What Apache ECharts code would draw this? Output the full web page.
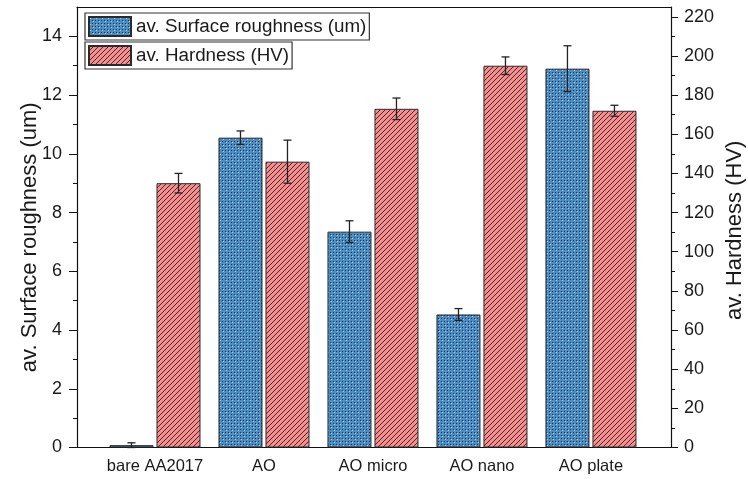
<!DOCTYPE html>
<html>
<head>
<meta charset="utf-8">
<script src="https://cdn.jsdelivr.net/npm/echarts@6/dist/echarts.min.js"></script>
<style>html,body{margin:0;padding:0;background:#fff}#c{width:748px;height:479px}</style>
</head>
<body>
<div id="c"></div>
<script>
const categories = ['bare AA2017', 'AO', 'AO micro', 'AO nano', 'AO plate'];
const roughness = [0.08, 10.55, 7.35, 4.53, 12.9];
const roughnessErr = [0.08, 0.23, 0.37, 0.2, 0.78];
const hardness = [135, 146, 173, 195, 172];
const hardnessErr = [5, 11, 5.5, 4.5, 2.8];
const leftMajorTicks = [0, 2, 4, 6, 8, 10, 12, 14];
const leftMinorTicks = [1, 3, 5, 7, 9, 11, 13];
const rightMajorTicks = [0, 20, 40, 60, 80, 100, 120, 140, 160, 180, 200, 220];
const rightMinorTicks = [10, 30, 50, 70, 90, 110, 130, 150, 170, 190, 210];
const names = ['av. Surface roughness (um)', 'av. Hardness (HV)'];

function bluePattern() {
  const c = document.createElement('canvas'); c.width = 6; c.height = 6;
  const g = c.getContext('2d');
  g.fillStyle = '#4f8cc0'; g.fillRect(0, 0, 6, 6);
  g.fillStyle = '#1c3550';
  g.fillRect(0, 0, 1, 1); g.fillRect(3, 3, 1, 1); g.fillRect(3, 0, 1, 1); g.fillRect(0, 3, 1, 1);
  g.fillStyle = '#8fd3ff';
  g.fillRect(1, 1, 1, 1); g.fillRect(4, 4, 1, 1);
  return c;
}
function redPattern() {
  const c = document.createElement('canvas'); c.width = 5; c.height = 5;
  const g = c.getContext('2d');
  g.fillStyle = '#f58f8f'; g.fillRect(0, 0, 5, 5);
  g.fillStyle = '#4a2626';
  for (let x = 0; x < 5; x++) { const y = (4 - x + 5) % 5; g.fillRect(x, y, 1, 1); }
  return c;
}

const BW = 44, GAP = 3;
const off = (BW + GAP) / 2;

function errSeries(vals, errs, yIdx, dx) {
  return {
    type: 'custom', xAxisIndex: 0, yAxisIndex: yIdx, z: 10, silent: true,
    data: vals.map((v, i) => [i, v, errs[i]]),
    renderItem: function (params, api) {
      const x = api.value(0), v = api.value(1), e = api.value(2);
      const hi = api.coord([x, v + e]), lo = api.coord([x, v - e]);
      const cx = hi[0] + dx, cw = 4;
      const st = { stroke: '#222', lineWidth: 1.3 };
      return { type: 'group', children: [
        { type: 'line', shape: { x1: cx, y1: hi[1], x2: cx, y2: lo[1] }, style: st },
        { type: 'line', shape: { x1: cx - cw, y1: hi[1], x2: cx + cw, y2: hi[1] }, style: st },
        { type: 'line', shape: { x1: cx - cw, y1: lo[1], x2: cx + cw, y2: lo[1] }, style: st }
      ] };
    }
  };
}

const chart = echarts.init(document.getElementById('c'));
const txt = '#1a1a1a';
const xmin = -0.7156, xmax = 4.7344;
const axisLineStyle = { color: '#111', width: 1.2 };
chart.setOption({
  animation: false,
  textStyle: { fontFamily: 'Liberation Sans, Arial, sans-serif' },
  grid: { left: 77, right: 77, top: 7, bottom: 31.5, containLabel: false, outerBoundsMode: 'none' },
  legend: [
    { data: [names[0]], left: 85, top: 13, orient: 'vertical', icon: 'rect', itemWidth: 42, itemHeight: 19, itemGap: 4,
      padding: [3, 3, 3, 3], borderColor: '#333', borderWidth: 1.2, textStyle: { fontSize: 18.8, color: txt } },
    { data: [names[1]], left: 85, top: 42, orient: 'vertical', icon: 'rect', itemWidth: 42, itemHeight: 19, itemGap: 4,
      padding: [3, 3, 3, 3], borderColor: '#333', borderWidth: 1.2, textStyle: { fontSize: 18.8, color: txt } }
  ],
  xAxis: [
    { type: 'value', min: xmin, max: xmax, position: 'bottom',
      axisLine: { show: true, onZero: false, lineStyle: axisLineStyle },
      axisTick: { show: false }, splitLine: { show: false },
      axisLabel: { customValues: [0, 1, 2, 3, 4], formatter: v => categories[Math.round(v)], fontSize: 16.5, color: txt, margin: 10 } },
    { type: 'value', min: xmin, max: xmax, position: 'top',
      axisLine: { show: true, onZero: false, lineStyle: axisLineStyle },
      axisTick: { show: false }, splitLine: { show: false }, axisLabel: { show: false } }
  ],
  yAxis: [
    { type: 'value', min: 0, max: 15, position: 'left',
      name: names[0], nameLocation: 'middle', nameRotate: 90, nameGap: 36, nameMoveOverlap: false,
      nameTextStyle: { fontSize: 22, color: txt, padding: [0, 20, 0, 0] },
      axisLine: { show: true, onZero: false, lineStyle: axisLineStyle },
      axisTick: { show: true, customValues: leftMajorTicks, length: 8, lineStyle: { color: '#111' } },
      axisLabel: { customValues: leftMajorTicks, fontSize: 18, color: txt, margin: 15 },
      splitLine: { show: false } },
    { type: 'value', min: 0, max: 15, position: 'left',
      axisLine: { show: false, onZero: false },
      axisTick: { show: true, customValues: leftMinorTicks, length: 4, lineStyle: { color: '#111' } },
      axisLabel: { show: false }, splitLine: { show: false } },
    { type: 'value', min: 0, max: 225, position: 'right',
      name: names[1], nameLocation: 'middle', nameRotate: 90, nameGap: 53, nameMoveOverlap: false,
      nameTextStyle: { fontSize: 22, color: txt, padding: [0, 6, 0, 0] },
      axisLine: { show: true, onZero: false, lineStyle: axisLineStyle },
      axisTick: { show: true, customValues: rightMajorTicks, length: 7, lineStyle: { color: '#111' } },
      axisLabel: { customValues: rightMajorTicks, fontSize: 18, color: txt, margin: 13 },
      splitLine: { show: false } },
    { type: 'value', min: 0, max: 225, position: 'right',
      axisLine: { show: false, onZero: false },
      axisTick: { show: true, customValues: rightMinorTicks, length: 4, lineStyle: { color: '#111' } },
      axisLabel: { show: false }, splitLine: { show: false } }
  ],
  series: [
    { name: names[0], type: 'bar', xAxisIndex: 0, yAxisIndex: 0, barWidth: BW, barGap: (GAP / BW * 100) + '%',
      data: roughness.map((v, i) => [i, v]),
      itemStyle: { color: { image: bluePattern(), repeat: 'repeat' }, borderColor: '#2a2a2a', borderWidth: 1 } },
    { name: names[1], type: 'bar', xAxisIndex: 0, yAxisIndex: 2, barWidth: BW, barGap: (GAP / BW * 100) + '%',
      data: hardness.map((v, i) => [i, v]),
      itemStyle: { color: { image: redPattern(), repeat: 'repeat' }, borderColor: '#2a2a2a', borderWidth: 1 } },
    errSeries(roughness, roughnessErr, 0, -off),
    errSeries(hardness, hardnessErr, 2, off)
  ]
});
</script>
</body>
</html>
